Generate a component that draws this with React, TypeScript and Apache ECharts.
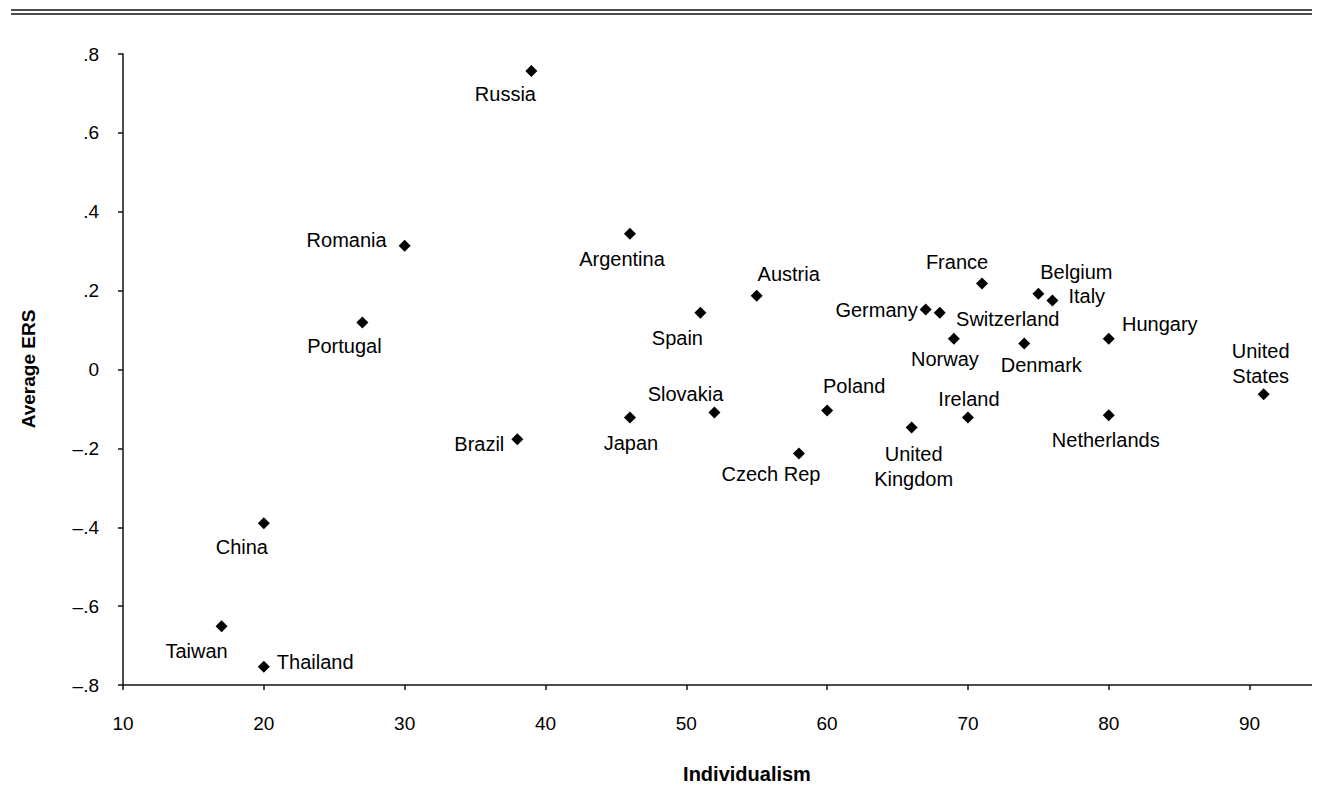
import React, { useEffect, useRef } from "react";
import * as echarts from "echarts";

// Country averages: individualism index vs. average extreme response style
const countries = [
  "Russia", "Romania", "Argentina", "Portugal", "Spain", "Austria", "France",
  "Belgium", "Italy", "Germany", "Switzerland", "Norway", "Denmark", "Hungary",
  "United\nStates", "Netherlands", "Ireland", "United\nKingdom", "Poland",
  "Czech Rep", "Slovakia", "Japan", "Brazil", "China", "Taiwan", "Thailand",
];
const individualism = [
  39, 30, 46, 27, 51, 55, 71, 75, 76, 67, 68, 69, 74, 80,
  91, 80, 70, 66, 60, 58, 52, 46, 38, 20, 17, 20,
];
const averageERS = [
  0.757, 0.314, 0.344, 0.119, 0.144, 0.187, 0.218, 0.192, 0.175, 0.152, 0.144,
  0.078, 0.066, 0.078, -0.063, -0.116, -0.122, -0.147, -0.104, -0.213, -0.109,
  -0.122, -0.177, -0.39, -0.651, -0.754,
];
const xTicks = [10, 20, 30, 40, 50, 60, 70, 80, 90];
const yTicks = [-0.8, -0.6, -0.4, -0.2, 0, 0.2, 0.4, 0.6, 0.8];

// label placement per point: [dx, dy, align] relative to the marker centre
const labelPlacement: [number, number, string][] = [
  [-26, 23, "center"], // Russia
  [-18, -6, "right"], // Romania
  [-8, 25, "center"], // Argentina
  [-18, 23, "center"], // Portugal
  [-23, 25, "center"], // Spain
  [32, -22, "center"], // Austria
  [-25, -22, "center"], // France
  [38, -22, "center"], // Belgium
  [16, -4, "left"], // Italy
  [-8, 0, "right"], // Germany
  [68, 6, "center"], // Switzerland
  [-9, 20, "center"], // Norway
  [17, 22, "center"], // Denmark
  [51, -15, "center"], // Hungary
  [-3, -31, "center"], // United States
  [-3, 25, "center"], // Netherlands
  [1, -19, "center"], // Ireland
  [2, 39, "center"], // United Kingdom
  [27, -25, "center"], // Poland
  [-28, 20, "center"], // Czech Rep
  [-29, -18, "center"], // Slovakia
  [1, 25, "center"], // Japan
  [-13, 5, "right"], // Brazil
  [-22, 24, "center"], // China
  [-25, 25, "center"], // Taiwan
  [13, -5, "left"], // Thailand
];

const SYMBOL = 12;
const font = "'Liberation Sans', Arial, Helvetica, sans-serif";

function fmtY(v: number): string {
  if (Math.abs(v) < 1e-9) return "0";
  const s = Math.abs(v).toFixed(1).replace(/^0/, "");
  return v < 0 ? "\u2013" + s : s;
}

export default function App() {
  const ref = useRef<HTMLDivElement>(null);

  useEffect(() => {
    if (!ref.current) return;
    const chart = echarts.init(ref.current, undefined, { renderer: "svg" });

    const data = countries.map((name, i) => ({
      name,
      value: [individualism[i], averageERS[i]],
      label: {
        show: true,
        // position is measured from the top-left of the marker's box
        position: [SYMBOL / 2 + labelPlacement[i][0], SYMBOL / 2 + labelPlacement[i][1]],
        align: labelPlacement[i][2],
        verticalAlign: "middle",
        formatter: name,
      },
    }));

    chart.setOption({
      animation: false,
      backgroundColor: "#ffffff",
      textStyle: { fontFamily: font },
      grid: { left: 115, right: 0, top: 46, bottom: 101, containLabel: false },
      xAxis: {
        type: "value",
        min: 10,
        max: 95,
        interval: 10,
        splitLine: { show: false },
        axisLine: { show: true, onZero: false, lineStyle: { color: "#111", width: 1.5 } },
        axisTick: {
          show: true,
          length: 5,
          inside: false,
          customValues: xTicks,
          lineStyle: { color: "#111", width: 1.5 },
        },
        axisLabel: {
          customValues: xTicks,
          margin: 29,
          fontSize: 19,
          color: "#000",
          fontFamily: font,
        },
      },
      yAxis: {
        type: "value",
        min: -0.8,
        max: 0.8,
        interval: 0.2,
        splitLine: { show: false },
        axisLine: { show: true, onZero: false, lineStyle: { color: "#111", width: 1.5 } },
        axisTick: {
          show: true,
          length: 5,
          customValues: yTicks,
          lineStyle: { color: "#111", width: 1.5 },
        },
        axisLabel: {
          customValues: yTicks,
          margin: 24,
          fontSize: 19,
          color: "#000",
          fontFamily: font,
          formatter: (v: number) => fmtY(v),
        },
      },
      series: [
        {
          type: "scatter",
          symbol: "diamond",
          symbolSize: [SYMBOL, SYMBOL],
          itemStyle: { color: "#000", opacity: 1 },
          label: {
            fontSize: 20,
            color: "#000",
            fontFamily: font,
            lineHeight: 25,
          },
          labelLayout: { hideOverlap: false },
          data,
        },
      ],
      graphic: [
        {
          type: "line",
          shape: { x1: 3, y1: 2, x2: 1312, y2: 2 },
          style: { stroke: "#111", lineWidth: 1.5 },
        },
        {
          type: "line",
          shape: { x1: 3, y1: 6, x2: 1312, y2: 6 },
          style: { stroke: "#111", lineWidth: 1.5 },
        },
        {
          type: "text",
          x: 20,
          y: 361,
          rotation: Math.PI / 2,
          style: {
            text: "Average ERS",
            font: `bold 19px ${font}`,
            fill: "#000",
            align: "center",
            verticalAlign: "middle",
          },
        },
        {
          type: "text",
          x: 739,
          y: 766,
          style: {
            text: "Individualism",
            font: `bold 20px ${font}`,
            fill: "#000",
            align: "center",
            verticalAlign: "middle",
          },
        },
      ],
    });

    return () => chart.dispose();
  }, []);

  return <div ref={ref} style={{ width: 1312, height: 778 }} />;
}
